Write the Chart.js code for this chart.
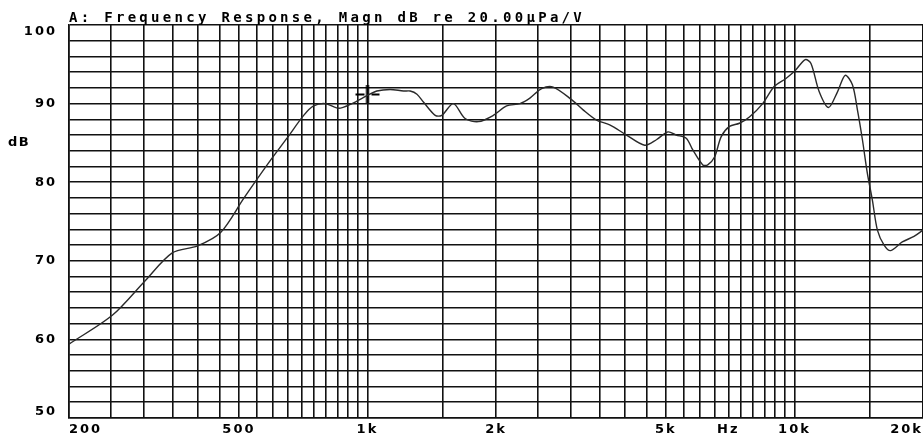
<!DOCTYPE html>
<html><head><meta charset="utf-8">
<script src="https://cdn.jsdelivr.net/npm/chart.js@4.4.1/dist/chart.umd.min.js"></script>
<style>html,body{margin:0;padding:0;background:#fff;}canvas{display:block;}</style>
</head><body>
<canvas id="c" width="923" height="437"></canvas>
<script>
// ---- data ----
const freqs = [200,253,302,349,400,453,514,593,648,709,748,797,856,920,997,1052,1130,1215,1259,1306,1352,1441,1493,1589,1693,1819,1971,2118,2276,2401,2558,2722,3006,3199,3439,3692,4041,4459,4749,5054,5285,5578,5781,6101,6265,6499,6737,7044,7432,7844,8425,8972,9551,10000,10600,10932,11429,12015,12611,13147,13670,14043,14427,14820,15225,15641,16214,16806,17889,19054,20000];
const levels = [59.4,63.1,67.5,71.0,71.9,73.6,78.0,82.8,85.6,88.5,89.7,90.0,89.4,90.0,91.0,91.6,91.8,91.6,91.6,91.2,90.2,88.5,88.5,90.0,88.1,87.7,88.5,89.7,90.0,90.7,91.9,92.1,90.5,89.2,87.9,87.3,86.0,84.7,85.4,86.4,86.0,85.6,84.1,82.2,82.2,83.2,85.8,87.1,87.5,88.3,90.0,92.2,93.2,94.1,95.6,95.1,91.5,89.5,91.5,93.6,92.4,89.2,85.4,81.1,77.7,73.9,72.0,71.3,72.4,73.1,73.9];
const gridFreqs = [200,250,300,350,400,450,500,550,600,650,700,750,800,850,900,950,1000,1500,2000,2500,3000,3500,4000,4500,5000,5500,6000,6500,7000,7500,8000,8500,9000,9500,10000,15000,20000];
const xTickFreqs = [200,500,1000,2000,5000,7000,10000,20000];
const xTickTexts = ['200','500','1k','2k','5k','Hz','10k','20k'];
const yLabelLevels = [50,60,70,80,90,100];
const markerFreq = [1000];
const markerLevel = [91.16];
const titleText = 'A: Frequency Response, Magn dB re 20.00\u00b5Pa/V';
const yUnitText = 'dB';
const yUnitLevel = 85;

// ---- cursor marker glyph ----
const mk = document.createElement('canvas');
mk.width = 26; mk.height = 18;
const m = mk.getContext('2d');
m.fillStyle = '#000';
m.fillRect(11.5, 0, 3, 18);
m.fillRect(1, 8, 9, 2);
m.fillRect(17, 8, 8, 2);

const textPlugin = {
  id: 'textPlugin',
  beforeDraw(chart) {
    chart.ctx.letterSpacing = '2px';
    const s = chart.scales.y;
    const items = s._computeLabelItems(chart.chartArea);
    items.forEach(it => {
      const l = String(it.label);
      if (l === '100') it.options.textBaseline = 'top';
      if (l === '50') it.options.textBaseline = 'bottom';
    });
    s._labelItems = items;
  },
  afterDraw(chart) {
    const ctx = chart.ctx;
    ctx.save();
    ctx.fillStyle = '#000';
    ctx.letterSpacing = '3.3px';
    ctx.font = 'bold 14px "DejaVu Sans Mono"';
    ctx.textAlign = 'left';
    ctx.textBaseline = 'alphabetic';
    ctx.fillText(titleText, chart.chartArea.left, 22);
    ctx.letterSpacing = '1.5px';
    ctx.font = 'bold 13px "DejaVu Sans"';
    ctx.textBaseline = 'middle';
    ctx.fillText(yUnitText, 8, chart.scales.y.getPixelForValue(yUnitLevel));
    ctx.restore();
    ctx.letterSpacing = '0px';
  }
};

const tickFont = {family: 'DejaVu Sans', weight: 'bold', size: 13};
const gridCol = '#111';

new Chart(document.getElementById('c'), {
  type: 'line',
  data: {
    datasets: [
      {
        data: freqs.map((f, i) => ({x: f, y: levels[i]})),
        borderColor: '#2a2a2a', borderWidth: 1.4, pointRadius: 0, tension: 0.3, fill: false
      },
      {
        data: markerFreq.map((f, i) => ({x: f, y: markerLevel[i]})),
        showLine: false, pointStyle: mk, pointRadius: 10
      }
    ]
  },
  options: {
    responsive: false, animation: false,
    layout: {autoPadding: false, padding: {top: 25, left: 0, right: 0, bottom: 0}},
    plugins: {legend: {display: false}, tooltip: {enabled: false}, title: {display: false}},
    scales: {
      x: {
        type: 'logarithmic', min: 200, max: 20000,
        afterBuildTicks: s => { s.ticks = gridFreqs.map(v => ({value: v})); },
        afterFit: s => { s.height = 19; s.paddingLeft = 0; s.paddingRight = 0; },
        grid: {color: gridCol, lineWidth: 1.6, drawTicks: false},
        border: {color: gridCol, width: 1.6},
        ticks: {
          autoSkip: false, maxRotation: 0, minRotation: 0, align: 'inner', padding: 4,
          color: '#000', font: tickFont,
          callback: v => { const k = xTickFreqs.indexOf(v); return k >= 0 ? xTickTexts[k] : ''; }
        }
      },
      y: {
        type: 'linear', min: 50, max: 100,
        afterFit: s => { s.width = 69; s.paddingTop = 0; s.paddingBottom = 0; },
        grid: {color: gridCol, lineWidth: 1.6, drawTicks: false},
        border: {color: gridCol, width: 1.6},
        ticks: {
          stepSize: 2, padding: 12, color: '#000', font: tickFont, autoSkip: false,
          callback: v => yLabelLevels.includes(v) ? String(v) : ''
        }
      }
    }
  },
  plugins: [textPlugin]
});
</script>
</body></html>
